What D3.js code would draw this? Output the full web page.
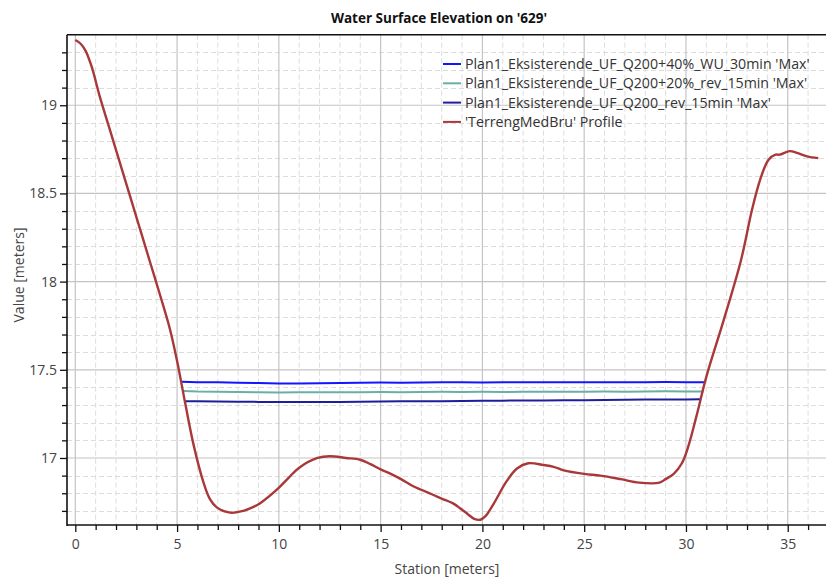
<!DOCTYPE html>
<html>
<head>
<meta charset="utf-8">
<script src="https://cdn.jsdelivr.net/npm/d3@7"></script>
<style>
  html, body { margin: 0; padding: 0; background: #fff; }
  svg { display: block; font-family: "Open Sans", "Noto Sans", sans-serif; }
</style>
</head>
<body>
<svg id="chart" width="826" height="577"></svg>
<script>
// Terrain profile (station in m, elevation in m)
const terrainStation = [0, 0.25, 0.5, 0.8, 1.2, 1.7, 2.2, 2.7, 3.2, 3.7, 4.2, 4.65, 5.0, 5.4, 5.8, 6.3, 6.6, 6.95, 7.6, 8.25, 8.7, 9.1, 9.9, 10.5, 11.0, 11.9, 12.5, 13.3, 14.0, 14.5, 15.0, 15.5, 16.0, 16.6, 17.0, 17.6, 18.0, 18.6, 18.9, 19.3, 19.6, 19.9, 20.15, 20.55, 21.2, 21.7, 22.25, 23.0, 23.5, 24.0, 25.0, 25.8, 26.8, 27.7, 28.7, 29.0, 29.4, 29.8, 30.1, 30.5, 31.0, 31.85, 32.7, 33.25, 33.65, 34.05, 34.4, 34.6, 35.1, 35.45, 35.95, 36.5];
const terrainElev = [19.37, 19.35, 19.31, 19.22, 19.05, 18.86, 18.67, 18.48, 18.29, 18.10, 17.91, 17.73, 17.55, 17.31, 17.08, 16.86, 16.77, 16.72, 16.69, 16.70, 16.72, 16.745, 16.82, 16.89, 16.945, 17.0, 17.01, 17.0, 16.99, 16.965, 16.935, 16.91, 16.88, 16.84, 16.82, 16.79, 16.77, 16.74, 16.715, 16.68, 16.655, 16.65, 16.67, 16.74, 16.87, 16.94, 16.97, 16.96, 16.95, 16.93, 16.91, 16.90, 16.88, 16.86, 16.86, 16.88, 16.91, 16.97, 17.06, 17.23, 17.46, 17.78, 18.12, 18.41, 18.58, 18.69, 18.72, 18.72, 18.74, 18.73, 18.71, 18.70];

// Max water surface for each plan
const wseStation = [5.23, 6, 7, 8, 9, 10, 11, 12, 13, 14, 15, 16, 17, 18, 19, 20, 21, 22, 23, 24, 25, 26, 27, 28, 29, 30, 30.94];
const wse40 = [17.432, 17.430, 17.429, 17.427, 17.425, 17.422, 17.423, 17.424, 17.425, 17.427, 17.428, 17.427, 17.428, 17.429, 17.430, 17.428, 17.429, 17.430, 17.429, 17.430, 17.429, 17.430, 17.429, 17.430, 17.431, 17.430, 17.430];
const wse20Station = [5.31, 6, 7, 8, 9, 10, 11, 12, 13, 14, 15, 16, 17, 18, 19, 20, 21, 22, 23, 24, 25, 26, 27, 28, 29, 30, 30.86];
const wse20 = [17.380, 17.377, 17.376, 17.374, 17.372, 17.371, 17.372, 17.373, 17.372, 17.373, 17.374, 17.373, 17.374, 17.375, 17.374, 17.375, 17.374, 17.375, 17.376, 17.375, 17.376, 17.377, 17.376, 17.377, 17.378, 17.377, 17.377];
const wse0Station = [5.39, 6, 7, 8, 9, 10, 11, 12, 13, 14, 15, 16, 17, 18, 19, 20, 21, 22, 23, 24, 25, 26, 27, 28, 29, 30, 30.69];
const wse0 = [17.322, 17.321, 17.320, 17.319, 17.318, 17.317, 17.318, 17.317, 17.318, 17.319, 17.320, 17.321, 17.322, 17.322, 17.323, 17.324, 17.325, 17.326, 17.326, 17.327, 17.328, 17.329, 17.330, 17.331, 17.332, 17.332, 17.333];

const seriesNames = [
  "Plan1_Eksisterende_UF_Q200+40%_WU_30min 'Max'",
  "Plan1_Eksisterende_UF_Q200+20%_rev_15min 'Max'",
  "Plan1_Eksisterende_UF_Q200_rev_15min 'Max'",
  "'TerrengMedBru' Profile"
];
const seriesColors = ["#1414ff", "#6aaea8", "#1e1e9c", "#a8383a"];

const xMajorTicks = [0, 5, 10, 15, 20, 25, 30, 35];
const yMajorTicks = [17, 17.5, 18, 18.5, 19];
const yTickLabels = ["17", "17.5", "18", "18.5", "19"];

const titleText = "Water Surface Elevation on '629'";
const xTitle = "Station [meters]";
const yTitle = "Value [meters]";

// ---- layout ----
const plot = { left: 67, top: 34.7, right: 826, bottom: 525 };
const svg = d3.select("#chart");

const x = d3.scaleLinear().domain([-0.408, 36.88]).range([plot.left, plot.right]);
const y = d3.scaleLinear().domain([16.62, 19.40]).range([plot.bottom, plot.top]);

const xMinor = d3.range(0, 37, 1).filter(v => !xMajorTicks.includes(v));
const yMinor = d3.range(167, 194, 1).map(v => v / 10).filter(v => !yMajorTicks.some(t => Math.abs(t - v) < 1e-6));

const grid = svg.append("g");
// minor dashed grid
grid.selectAll(".vminor").data(xMinor).join("line")
  .attr("x1", d => x(d)).attr("x2", d => x(d))
  .attr("y1", plot.top).attr("y2", plot.bottom)
  .attr("stroke", "#dcdcdc").attr("stroke-width", 1).attr("stroke-dasharray", "5,3");
grid.selectAll(".hminor").data(yMinor).join("line")
  .attr("y1", d => Math.round(y(d)) + 0.5).attr("y2", d => Math.round(y(d)) + 0.5)
  .attr("x1", plot.left).attr("x2", plot.right)
  .attr("stroke", "#dcdcdc").attr("stroke-width", 1).attr("stroke-dasharray", "5,3");
// major solid grid
grid.selectAll(".vmajor").data(xMajorTicks).join("line")
  .attr("x1", d => x(d)).attr("x2", d => x(d))
  .attr("y1", plot.top).attr("y2", plot.bottom)
  .attr("stroke", "#c4c4c4").attr("stroke-width", 1.2);
grid.selectAll(".hmajor").data(yMajorTicks).join("line")
  .attr("y1", d => y(d)).attr("y2", d => y(d))
  .attr("x1", plot.left).attr("x2", plot.right)
  .attr("stroke", "#c4c4c4").attr("stroke-width", 1.2);

// ---- series ----
const line = d3.line().x(d => x(d[0])).y(d => y(d[1]));
const zipS = (s, v) => s.map((d, i) => [d, v[i]]);

const seriesData = [
  zipS(wseStation, wse40),
  zipS(wse20Station, wse20),
  zipS(wse0Station, wse0)
];
const lines = svg.append("g");
seriesData.forEach((data, i) => {
  lines.append("path").datum(data)
    .attr("fill", "none").attr("stroke", seriesColors[i])
    .attr("stroke-width", 2).attr("stroke-linejoin", "round")
    .attr("d", line);
});
lines.append("path").datum(zipS(terrainStation, terrainElev))
  .attr("fill", "none").attr("stroke", seriesColors[3])
  .attr("stroke-width", 2.4).attr("stroke-linejoin", "round")
  .attr("d", line.curve(d3.curveCatmullRom.alpha(0.5)));

// ---- axes ----
const xAxisMajor = d3.axisBottom(x).tickValues(xMajorTicks).tickSize(7).tickPadding(7).tickFormat(d3.format("d"));
const xAxisMinor = d3.axisBottom(x).tickValues(xMinor).tickSize(5).tickFormat("");
const gx = svg.append("g").attr("transform", `translate(0,${plot.bottom})`);
gx.call(xAxisMajor);
gx.append("g").call(xAxisMinor);

const yAxisMajor = d3.axisLeft(y).tickValues(yMajorTicks).tickSize(7).tickPadding(3)
  .tickFormat((d, i) => yTickLabels[i]);
const yAxisMinor = d3.axisLeft(y).tickValues(yMinor).tickSize(5).tickFormat("");
const gy = svg.append("g").attr("transform", `translate(${plot.left},0)`);
gy.call(yAxisMajor);
gy.append("g").call(yAxisMinor);

svg.selectAll(".domain").remove();
svg.selectAll(".tick line").attr("stroke", "#111").attr("stroke-width", 1.3);
svg.selectAll(".tick text").attr("font-size", 14).attr("fill", "#444")
  .attr("font-family", "'Open Sans', sans-serif");

// frame lines: left, bottom, top
svg.append("line").attr("x1", plot.left).attr("x2", plot.left).attr("y1", plot.top).attr("y2", plot.bottom + 1)
  .attr("stroke", "#111").attr("stroke-width", 1.6);
svg.append("line").attr("x1", plot.left).attr("x2", plot.right).attr("y1", plot.bottom).attr("y2", plot.bottom)
  .attr("stroke", "#111").attr("stroke-width", 1.6);
svg.append("line").attr("x1", plot.left).attr("x2", plot.right).attr("y1", plot.top).attr("y2", plot.top)
  .attr("stroke", "#111").attr("stroke-width", 1.4);

// ---- titles ----
svg.append("text").attr("x", 439).attr("y", 23).attr("text-anchor", "middle")
  .attr("font-size", 13.5).attr("font-weight", "bold").attr("fill", "#111")
  .text(titleText);
svg.append("text").attr("x", 447).attr("y", 574).attr("text-anchor", "middle")
  .attr("font-size", 14).attr("fill", "#444").text(xTitle);
svg.append("text").attr("transform", "translate(24,275) rotate(-90)").attr("text-anchor", "middle")
  .attr("font-size", 14).attr("fill", "#444").text(yTitle);

// ---- legend ----
const legend = svg.append("g").attr("transform", "translate(443,64)");
seriesNames.forEach((name, i) => {
  const row = legend.append("g").attr("transform", `translate(0,${i * 19.3})`);
  row.append("line").attr("x1", 0).attr("x2", 18).attr("y1", 0).attr("y2", 0)
    .attr("stroke", seriesColors[i]).attr("stroke-width", 2);
  row.append("text").attr("x", 22).attr("y", 5).attr("font-size", 14.2).attr("fill", "#333")
    .text(name);
});
</script>
</body>
</html>
